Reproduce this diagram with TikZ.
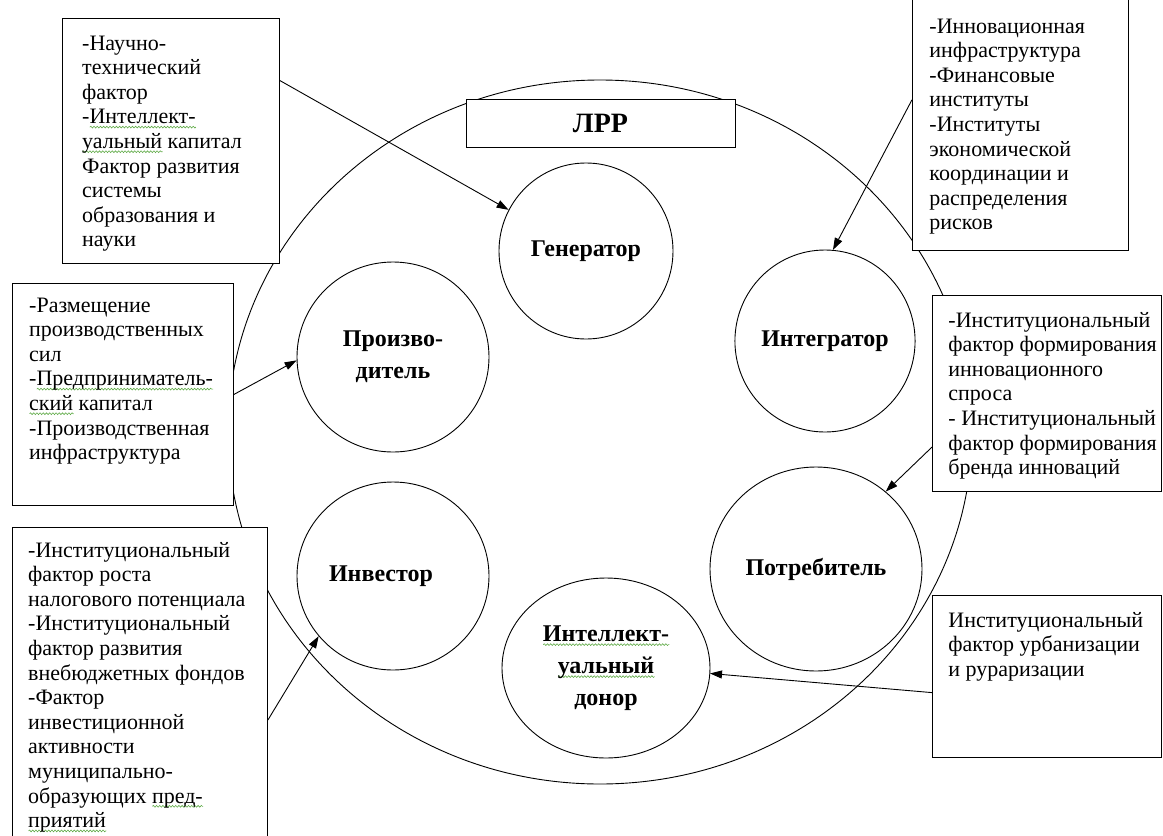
\documentclass[tikz,border=0pt]{standalone}
\usepackage{fontspec}
\setmainfont{Liberation Serif}
\usetikzlibrary{shapes.geometric}
\usetikzlibrary{arrows.meta}
\usetikzlibrary{decorations.pathmorphing}
\definecolor{spellgreen}{RGB}{95,170,70}
\newcommand{\spellmark}[1]{\setbox0\hbox{#1}\rlap{\smash{\raisebox{-4.5pt}{\tikz\draw[spellgreen, line width=0.6pt,
  decorate, decoration={snake, amplitude=0.9pt, segment length=3.2pt}] (0pt,0pt) -- (\the\wd0,0pt);}}}\box0\relax}

\begin{document}
\begin{tikzpicture}[x=1pt, y=-1pt, line width=0.9pt, >={Triangle[length=12pt,width=8pt]},
  factbox/.style={draw, fill=white, rectangle, anchor=north west, inner sep=0pt},
  facttext/.style={anchor=base west, inner sep=0pt, font=\fontsize{22}{24.6}\selectfont},
  role/.style={draw, ellipse, inner sep=0pt, align=center, font=\bfseries\fontsize{24}{32}\selectfont}]
\clip (0,0) rectangle (1163,836);
\fill[white] (0,0) rectangle (1163,836);
\node[draw, ellipse, minimum width=744, minimum height=704] (region) at (600,432) {};
\node[draw, fill=white, minimum width=269, minimum height=48, inner sep=0pt,
  font=\bfseries\fontsize{28}{30}\selectfont] (lrr) at (600.5,123) {\raisebox{-3pt}{ЛРР}};
\node[role, minimum width=174, minimum height=176] (gen) at (586,251) {Генератор};
\node[role, minimum width=180, minimum height=182] (integ) at (825,341) {Интегратор};
\node[role, minimum width=192, minimum height=190] (prod) at (393,357) {Произво-\\дитель};
\node[role, minimum width=192, minimum height=188] (inv) at (393,576) {Инвестор\hspace*{24pt}};
\node[role, minimum width=212, minimum height=204] (cons) at (816,569) {Потребитель};
\node[role, minimum width=208, minimum height=180] (donor) at (606,668)
  {\spellmark{Интеллект-}\\\spellmark{уальный}\\донор};

\node[factbox, minimum width=217, minimum height=245] (bsci) at (62,18) {};
\node[facttext] (tsci) at (82,50) {\parbox[t]{200pt}{-Научно-\\технический\\фактор\\
  -\spellmark{Интеллект-}\\\spellmark{уальный} капитал\\Фактор развития\\системы\\
  образования и\\науки}};
\node[factbox, minimum width=216, minimum height=290] (binfra) at (912,-40) {};
\node[facttext] (tinfra) at (929,33) {\parbox[t]{200pt}{-Инновационная\\инфраструктура\\
  -Финансовые\\институты\\-Институты\\экономической\\координации и\\распределения\\рисков}};
\node[factbox, minimum width=221, minimum height=222] (bprod) at (12,283) {};
\node[facttext] (tprod) at (29,312) {\parbox[t]{210pt}{-Размещение\\производственных\\сил\\
  -\spellmark{Предприниматель-}\\\spellmark{ский} капитал\\-Производственная\\инфраструктура}};
\node[factbox, minimum width=229, minimum height=196] (bcons) at (932,295) {};
\node[facttext] (tcons) at (948,327) {\parbox[t]{215pt}{-Институциональный\\
  фактор формирования\\инновационного\\спроса\\- Институциональный\\
  фактор формирования\\бренда инноваций}};
\node[factbox, minimum width=255, minimum height=340] (binv) at (12,527) {};
\node[facttext] (tinv) at (28,557) {\parbox[t]{240pt}{-Институциональный\\фактор роста\\
  налогового потенциала\\-Институциональный\\фактор развития\\внебюджетных фондов\\
  -Фактор\\инвестиционной\\активности\\муниципально-\\образующих \spellmark{пред-}\\
  \spellmark{приятий}}};
\node[factbox, minimum width=229, minimum height=162] (bdon) at (932,595) {};
\node[facttext] (tdon) at (948,627) {\parbox[t]{215pt}{Институциональный\\
  фактор урбанизации\\и рураризации}};

\draw[->] (bsci.29) -- (gen.152);
\draw[->] (binfra.177) -- (integ.85);
\draw[->] (bprod.east) -- (prod.182);
\draw[->] (bcons.205) -- (cons.48);
\draw[->] (binv.350) -- (inv.219);
\draw[->] (bdon.188) -- (donor.357);
\end{tikzpicture}
\end{document}
